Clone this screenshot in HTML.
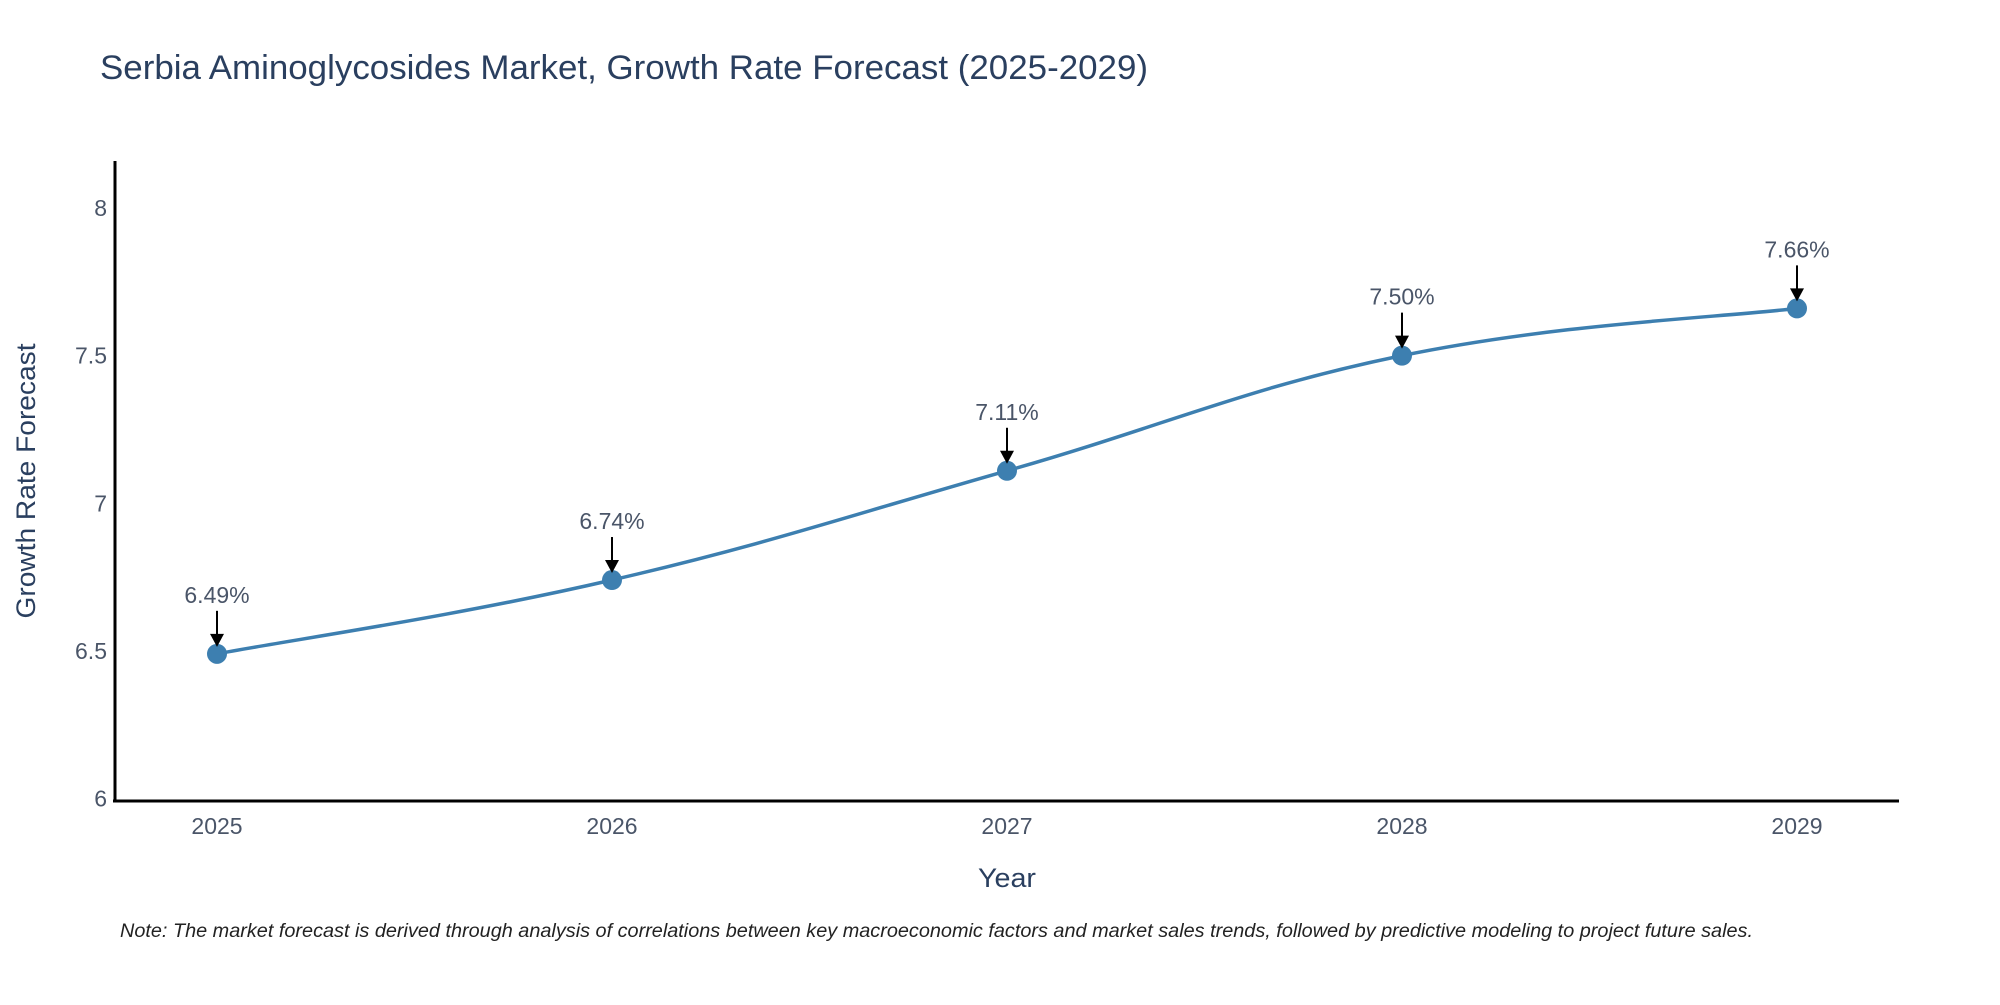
<!DOCTYPE html>
<html><head><meta charset="utf-8"><style>
body{margin:0;background:#fff;}
svg text{font-family:"Liberation Sans",sans-serif;}
</style></head><body>
<svg id="chart" width="2000" height="1000" viewBox="0 0 2000 1000" xmlns="http://www.w3.org/2000/svg">
<text x="100" y="79" font-size="34" fill="#2a3f5f" textLength="1048" lengthAdjust="spacingAndGlyphs">Serbia Aminoglycosides Market, Growth Rate Forecast (2025-2029)</text>
<g id="axes"></g>
<g id="series"></g>
<text x="1007" y="887" font-size="27" fill="#2a3f5f" text-anchor="middle" textLength="58" lengthAdjust="spacingAndGlyphs">Year</text>
<text transform="translate(35,481) rotate(-90)" font-size="27" fill="#2a3f5f" text-anchor="middle" textLength="275" lengthAdjust="spacingAndGlyphs">Growth Rate Forecast</text>
<text x="120" y="937" font-size="19" font-style="italic" fill="#222" textLength="1633" lengthAdjust="spacingAndGlyphs">Note: The market forecast is derived through analysis of correlations between key macroeconomic factors and market sales trends, followed by predictive modeling to project future sales.</text>
</svg>
<script>
const years = [2025, 2026, 2027, 2028, 2029];
const values = [6.49, 6.74, 7.11, 7.50, 7.66];
const labels = ["6.49%", "6.74%", "7.11%", "7.50%", "7.66%"];
const yTicks = [6, 6.5, 7, 7.5, 8];
const yTickLabels = ["6", "6.5", "7", "7.5", "8"];

const NS = "http://www.w3.org/2000/svg";
const X0 = 217, X1 = 1797, Y0 = 798.5, Y1 = 208;
const xs = y => X0 + (y - years[0]) / (years[years.length-1] - years[0]) * (X1 - X0);
const ys = v => Y0 - (v - 6) / 2 * (Y0 - Y1);
function mk(tag, attrs, parent){const e=document.createElementNS(NS,tag);for(const k in attrs)e.setAttribute(k,attrs[k]);parent.appendChild(e);return e;}
const axes = document.getElementById('axes'), series = document.getElementById('series');

const yl = mk('line',{x1:115,y1:161,x2:115,y2:802,stroke:'#000','stroke-width':3},axes);


const xl = mk('line',{x1:113,y1:801,x2:1899,y2:801,stroke:'#000','stroke-width':3},axes);



yTicks.forEach((t,i)=>{
  const tx = mk('text',{x:107,y:ys(t)+8,'font-size':23,fill:'#4a5568','text-anchor':'end'},axes);
  tx.textContent = yTickLabels[i];
  
  
});
years.forEach(yr=>{
  const tx = mk('text',{x:xs(yr),y:834,'font-size':23,fill:'#4a5568','text-anchor':'middle'},axes);
  tx.textContent = String(yr);
  
  
});

const pts = years.map((yr,i)=>[xs(yr), ys(values[i])]);
let d = `M${pts[0][0]},${pts[0][1]}`;
for(let i=0;i<pts.length-1;i++){
  const p0=pts[Math.max(i-1,0)], p1=pts[i], p2=pts[i+1], p3=pts[Math.min(i+2,pts.length-1)];
  const s=0.2;
  const c1=[p1[0]+(p2[0]-p0[0])*s, p1[1]+(p2[1]-p0[1])*s];
  const c2=[p2[0]-(p3[0]-p1[0])*s, p2[1]-(p3[1]-p1[1])*s];
  d += ` C${c1[0]},${c1[1]} ${c2[0]},${c2[1]} ${p2[0]},${p2[1]}`;
}
const line = mk('path',{d:d,fill:'none',stroke:'#3d7fb0','stroke-width':3.5},series);



pts.forEach((p,i)=>{
  const c = mk('circle',{cx:p[0],cy:p[1],r:10,fill:'#3d7fb0'},series);
  
  
  const a = mk('line',{x1:p[0],y1:p[1]-43,x2:p[0],y2:p[1]-18,stroke:'#000','stroke-width':2},series);
  
  
  const h = mk('path',{d:`M${p[0]-7},${p[1]-20} L${p[0]+7},${p[1]-20} L${p[0]},${p[1]-7} Z`,fill:'#000'},series);
  
  
  const t = mk('text',{x:p[0],y:p[1]-51,'font-size':23,fill:'#4a5568','text-anchor':'middle'},series);
  t.textContent = labels[i];
  
  
});
</script>
</body></html>
